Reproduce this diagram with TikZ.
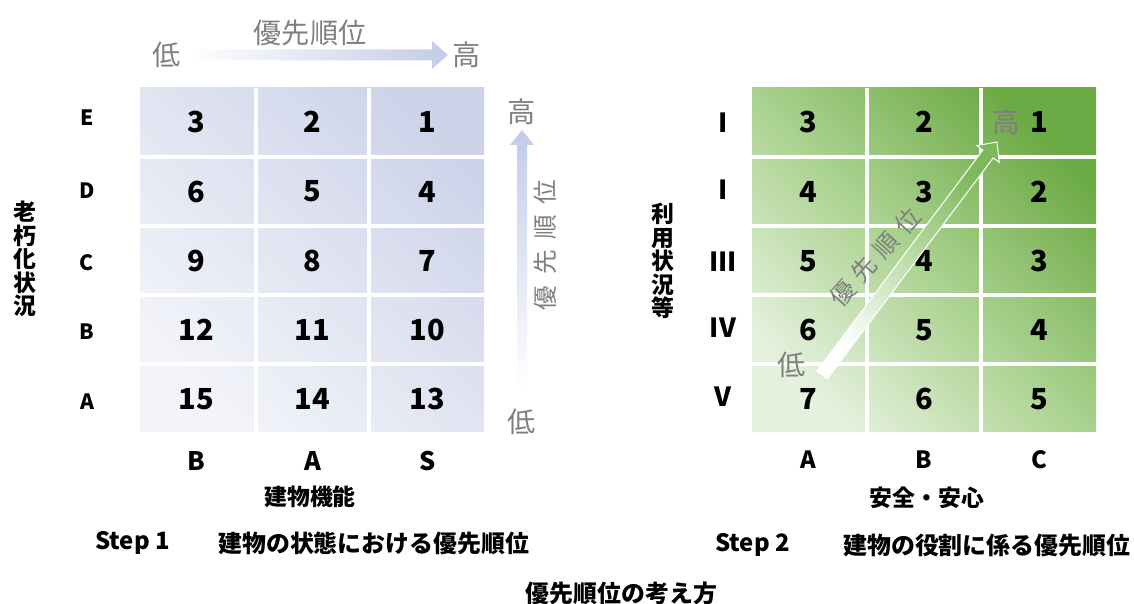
\documentclass[tikz,border=0pt]{standalone}
\usepackage{fontspec}
\setmainfont{Noto Sans CJK JP}
\definecolor{blueDark}{HTML}{CDD4EA}
\definecolor{blueMid}{HTML}{E1E4F1}
\definecolor{blueLight}{HTML}{F3F4FA}
\definecolor{greenDark}{HTML}{6CAA45}
\definecolor{greenMid}{HTML}{A9D18E}
\definecolor{greenLight}{HTML}{E4F1DC}
\definecolor{arrowBlue}{HTML}{C3CBE8}
\definecolor{arrowGreen}{HTML}{7DB95A}
\definecolor{labelGray}{HTML}{7F7F7F}
\begin{document}
\begin{tikzpicture}[x=0.02cm,y=-0.02cm,
  num/.style={font=\fontsize{16.5}{17}\selectfont\bfseries, inner sep=0pt},
  rowlbl/.style={font=\fontsize{12}{13}\selectfont\bfseries, inner sep=0pt},
  collbl/.style={font=\fontsize{14.5}{16}\selectfont\bfseries, inner sep=0pt},
  collblR/.style={font=\fontsize{13.5}{15}\selectfont\bfseries, inner sep=0pt},
  romanlbl/.style={font=\fontsize{15}{17}\selectfont\bfseries, inner sep=0pt},
  axlbl/.style={font=\fontsize{13}{15}\selectfont\bfseries, inner sep=0pt},
  vertlbl/.style={font=\fontsize{13}{13.4}\selectfont\bfseries, inner sep=0pt, align=center},
  steplbl/.style={font=\fontsize{13.6}{15}\selectfont\bfseries, inner sep=0pt},
  graylbl/.style={font=\fontsize{16}{17}\selectfont, text=labelGray, inner sep=0pt},
  gridline/.style={white, line width=0.08cm}
]
\useasboundingbox (0,0) rectangle (1134,604);

% ---------- left grid ----------
\shade[top color=blueDark, bottom color=blueLight, middle color=blueMid, shading angle=-45]
  (140,88) rectangle (484,432);
\foreach \x in {255.5,369} \draw[gridline] (\x,88) -- (\x,432);
\foreach \y in {157,226.5,295.5,364} \draw[gridline] (140,\y) -- (484,\y);

\foreach \r/\y/\a/\b/\c in {1/121.5/3/2/1, 2/191.5/6/5/4, 3/261/9/8/7, 4/330/12/11/10, 5/399/15/14/13}{
  \node[num] (La\r) at (196.5,\y) {\a};
  \node[num] (Lb\r) at (312.5,\y) {\b};
  \node[num] (Lc\r) at (427.5,\y) {\c};
}
\foreach \r/\y/\t in {1/118/E, 2/191/D, 3/263/C, 4/332/B, 5/402/A}{
  \node[rowlbl] (Lrow\r) at (87,\y) {\t};
}
\node[collbl] (Lcol1) at (196.5,461) {B};
\node[collbl] (Lcol2) at (312.5,461) {A};
\node[collbl] (Lcol3) at (427.5,461) {S};
\node[vertlbl] (Lvert) at (25,259) {老\\朽\\化\\状\\況};
\node[axlbl] (Lx) at (310,497) {建物機能};

% top arrow
\shade[left color=white, right color=arrowBlue]
  (188,49.5) -- (432,49.5) -- (432,41) -- (448,55) -- (432,69) -- (432,60.5) -- (188,60.5) -- cycle;
\node[graylbl] (tLow) at (167,55) {低};
\node[graylbl] (tHigh) at (467,55) {高};
\node[graylbl] (tPri) at (310,33) {優先順位};

% right vertical arrow
\shade[top color=arrowBlue, bottom color=white]
  (517,390) -- (517,145) -- (510,145) -- (522,130) -- (534,145) -- (527,145) -- (527,390) -- cycle;
\node[graylbl] (rHigh) at (522,112) {高};
\node[graylbl] (rLow) at (522,422) {低};
\node[graylbl, font=\fontsize{14}{15}\selectfont, rotate=90] (rPri) at (545,245)
  {優\hspace{6pt}先\hspace{6pt}順\hspace{6pt}位};

% ---------- right grid ----------
\shade[top color=greenDark, bottom color=greenLight, middle color=greenMid, shading angle=-45]
  (752,88) rectangle (1096,432);
\foreach \x in {866.5,981} \draw[gridline] (\x,88) -- (\x,432);
\foreach \y in {157.5,226,295,364} \draw[gridline] (752,\y) -- (1096,\y);

\foreach \r/\y/\a/\b/\c in {1/121.5/3/2/1, 2/191.5/4/3/2, 3/261/5/4/3, 4/330/6/5/4, 5/399/7/6/5}{
  \node[num] (Ra\r) at (808,\y) {\a};
  \node[num] (Rb\r) at (924,\y) {\b};
  \node[num] (Rc\r) at (1039.5,\y) {\c};
}
\foreach \r/\y/\t in {1/123/I, 2/190/I, 3/262/III, 4/328/IV, 5/397/V}{
  \node[romanlbl] (Rrow\r) at (723,\y) {\t};
}
\node[collblR] (Rcol1) at (808,460) {A};
\node[collblR] (Rcol2) at (924,460) {B};
\node[collblR] (Rcol3) at (1039.5,460) {C};
\node[vertlbl] (Rvert) at (663,261) {利\\用\\状\\況\\等};
\node[axlbl] (Rx) at (927,498) {安全・安心};

% diagonal arrow
\shade[top color=arrowGreen, bottom color=white, shading angle=-37,
       draw=white, line width=0.02cm, line join=miter]
  (827.2,378.9) -- (993.2,157.9) -- (999.2,162.4) -- (997,142) -- (976.8,145.6)
  -- (982.8,150.1) -- (816.8,371.1) -- cycle;
\node[graylbl] (dLow) at (792,365) {低};
\node[graylbl] (dHigh) at (1007,122) {高};
\node[graylbl, font=\fontsize{14}{15}\selectfont, rotate=48] (dPri) at (875,257)
  {優\hspace{4.5pt}先\hspace{4.5pt}順\hspace{4.5pt}位};

% ---------- captions ----------
\node[steplbl, anchor=west] (s1) at (95,543) {Step 1};
\node[steplbl, anchor=west] (s1t) at (218,543) {建物の状態における優先順位};
\node[steplbl, anchor=west] (s2) at (715,545) {Step 2};
\node[steplbl, anchor=west] (s2t) at (843,545) {建物の役割に係る優先順位};
\node[steplbl] (title) at (621.5,593) {優先順位の考え方};
\end{tikzpicture}
\end{document}
